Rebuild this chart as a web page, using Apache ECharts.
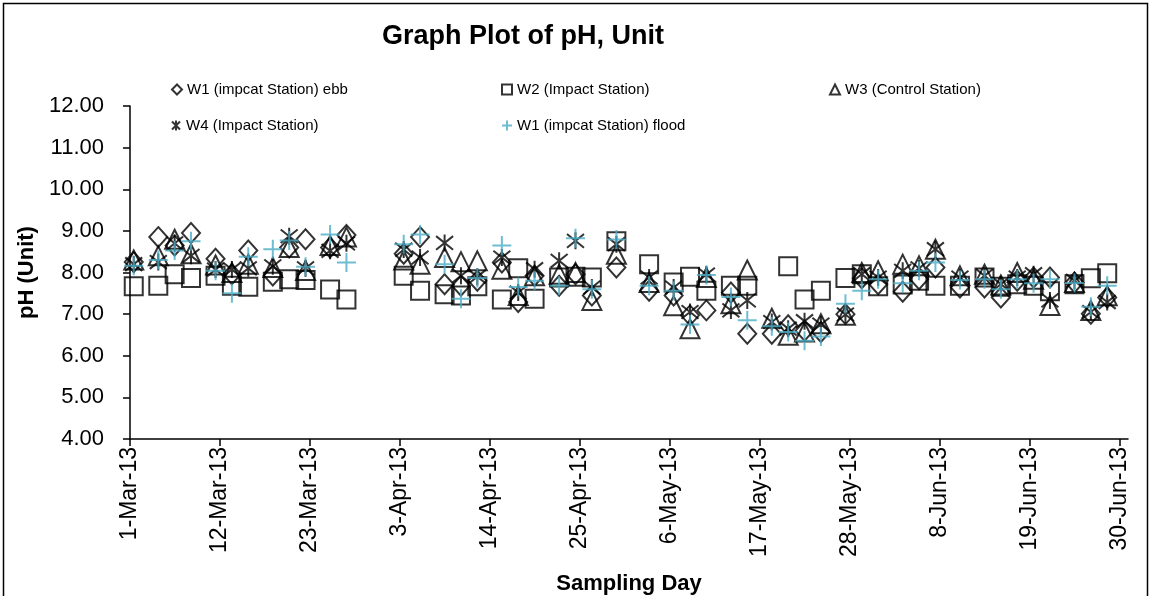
<!DOCTYPE html>
<html>
<head>
<meta charset="utf-8">
<script src="https://cdn.jsdelivr.net/npm/echarts@6/dist/echarts.min.js"></script>
<style>
html,body{margin:0;padding:0;background:#fff;}
#chart{width:1151px;height:596px;}
</style>
</head>
<body>
<div id="chart"></div>
<script>
// ---- data ----
const startDate = '2013-03-01';
const endDate = '2013-07-01';
const sampleHour = 11; // approximate time of day of sampling
const tickLabels = ['1-Mar-13','12-Mar-13','23-Mar-13','3-Apr-13','14-Apr-13','25-Apr-13','6-May-13','17-May-13','28-May-13','8-Jun-13','19-Jun-13','30-Jun-13'];
const dates = ['2013-03-01','2013-03-04','2013-03-06','2013-03-08','2013-03-11','2013-03-13','2013-03-15','2013-03-18','2013-03-20','2013-03-22','2013-03-25','2013-03-27',
  '2013-04-03','2013-04-05','2013-04-08','2013-04-10','2013-04-12','2013-04-15','2013-04-17','2013-04-19','2013-04-22','2013-04-24','2013-04-26','2013-04-29',
  '2013-05-03','2013-05-06','2013-05-08','2013-05-10','2013-05-13','2013-05-15','2013-05-18','2013-05-20','2013-05-22','2013-05-24','2013-05-27','2013-05-29','2013-05-31',
  '2013-06-03','2013-06-05','2013-06-07','2013-06-10','2013-06-13','2013-06-15','2013-06-17','2013-06-19','2013-06-21','2013-06-24','2013-06-26','2013-06-28'];
const w1Ebb = [8.25,8.85,8.65,8.95,8.33,7.96,8.53,7.93,8.60,8.80,8.60,8.90,
  8.45,8.85,7.72,7.68,7.80,8.24,7.29,7.92,7.68,7.96,7.45,8.12,
  7.56,7.45,6.97,7.09,7.52,6.53,6.53,6.73,6.60,6.57,7.00,7.86,7.72,
  7.54,7.84,8.12,7.64,7.64,7.40,7.80,7.88,7.88,7.76,7.01,7.40];
const w2 = [7.67,7.68,7.96,7.87,7.92,7.68,7.66,7.78,7.84,7.82,7.59,7.35,
  7.92,7.56,7.48,7.45,7.67,7.35,8.10,7.37,7.88,7.90,7.88,8.75,
  8.20,7.76,7.90,7.56,7.68,7.68,null,8.15,7.35,7.56,7.87,7.96,7.67,
  7.71,7.80,7.68,7.68,7.88,7.66,7.72,7.68,7.55,7.72,7.86,7.98];
const w3 = [8.30,8.40,8.80,8.45,8.18,8.00,8.20,8.12,8.60,8.05,8.65,8.85,
  8.30,8.20,8.36,8.26,8.28,8.08,7.45,7.92,7.96,8.00,7.33,8.44,
  7.76,7.20,6.65,7.88,7.25,8.06,6.90,6.49,6.57,6.77,6.97,8.00,8.04,
  8.20,8.16,8.56,7.92,7.96,7.70,8.00,7.84,7.21,7.76,7.09,7.44];
const w4 = [8.20,8.25,8.70,8.40,8.07,8.07,8.10,8.15,8.87,8.10,8.52,8.70,
  8.55,8.36,8.71,7.92,7.90,8.36,7.52,8.08,8.28,8.76,7.64,8.68,
  7.88,7.64,7.05,7.95,7.09,7.33,6.81,6.65,6.83,6.75,6.99,7.96,7.88,
  8.04,8.10,8.56,7.88,7.92,7.72,7.88,7.96,7.33,7.80,7.05,7.29];
const w1Flood = [8.16,8.30,8.53,8.75,8.04,7.50,8.38,8.56,8.77,8.14,8.91,8.24,
  8.68,8.91,8.20,7.37,7.87,8.65,7.65,7.80,7.68,8.82,7.60,8.79,
  7.68,7.56,6.75,7.94,7.41,6.85,6.71,6.57,6.36,6.46,7.25,7.56,7.84,
  7.74,8.04,8.24,7.82,7.84,7.60,7.84,7.74,7.84,7.75,7.18,7.68];
const seriesNames = ['W1 (impcat Station) ebb','W2 (Impact Station)','W3 (Control Station)','W4 (Impact Station)','W1 (impcat Station) flood'];
const yMin = 4, yMax = 12, yStep = 1, xStep = 11;

// ---- build ----
const DAY = 864e5;
const t0 = Date.parse(startDate + 'T00:00:00Z');
const dayOf = d => (Date.parse(d + 'T00:00:00Z') - t0) / DAY;
const xs = dates.map(d => dayOf(d) + sampleHour / 24);
const pts = vals => vals.map((v, i) => v == null ? null : [xs[i], v]).filter(p => p);
const tickDays = tickLabels.map((_, i) => i * xStep);

const starPath = 'path://M0,-10L0,10M-8,-8L8,8M-8,8L8,-8';
const plusPath = 'path://M0,-10L0,10M-10,0L10,0';
const FONT = 'Liberation Sans, Arial, sans-serif';

function mk(name, vals, symbol, size, color) {
  return {
    name, type: 'scatter', data: pts(vals), symbol, symbolSize: size,
    itemStyle: {color: 'rgba(0,0,0,0)', borderColor: color, borderWidth: 2},
    emphasis: {disabled: true}
  };
}
const series = [
  mk(seriesNames[0], w1Ebb, 'diamond', [18, 20], '#000'),
  mk(seriesNames[1], w2, 'rect', 18, '#000'),
  mk(seriesNames[2], w3, 'triangle', [19, 19], '#000'),
  mk(seriesNames[3], w4, starPath, 17, '#000'),
  mk(seriesNames[4], w1Flood, plusPath, 19, '#4BACC6')
];
const legendPos = [[171, 82], [501, 82], [829, 82], [171, 118], [501, 118]];
const legends = seriesNames.map((n, i) => ({
  data: [n], left: legendPos[i][0], top: legendPos[i][1], padding: 0,
  itemWidth: 10, itemHeight: 10, selectedMode: false,
  textStyle: {fontFamily: FONT, fontSize: 15, color: '#000'}
}));

const chart = echarts.init(document.getElementById('chart'), null, {renderer: 'canvas'});
chart.setOption({
  animation: false,
  backgroundColor: '#fff',
  title: {
    text: 'Graph Plot of pH, Unit', left: 377, top: 18,
    textStyle: {fontFamily: FONT, fontSize: 27, fontWeight: 'bold', color: '#000'}
  },
  legend: legends,
  grid: {left: 130, right: 23, top: 106, bottom: 157, containLabel: false, outerBoundsMode: 'none'},
  xAxis: {
    type: 'value', min: 0, max: dayOf(endDate), interval: xStep,
    name: 'Sampling Day', nameLocation: 'middle', nameGap: 134,
    nameTextStyle: {fontFamily: FONT, fontSize: 22, fontWeight: 'bold', color: '#000'},
    axisLine: {lineStyle: {color: '#000', width: 1.5}},
    axisTick: {show: true, length: 7, inside: false, customValues: tickDays, lineStyle: {color: '#000', width: 1.5}},
    axisLabel: {
      customValues: tickDays, rotate: 90, margin: 8,
      fontFamily: FONT, fontSize: 23, color: '#000',
      formatter: v => tickLabels[Math.round(v / xStep)] || ''
    },
    splitLine: {show: false}
  },
  yAxis: {
    type: 'value', min: yMin, max: yMax, interval: yStep,
    name: 'pH (Unit)', nameLocation: 'middle', nameGap: 89,
    nameTextStyle: {fontFamily: FONT, fontSize: 22, fontWeight: 'bold', color: '#000'},
    axisLine: {show: true, lineStyle: {color: '#000', width: 1.5}},
    axisTick: {show: true, length: 7, lineStyle: {color: '#000', width: 1.5}},
    axisLabel: {fontFamily: FONT, fontSize: 22, color: '#000', margin: 26, formatter: v => v.toFixed(2)},
    splitLine: {show: false}
  },
  graphic: [{
    type: 'rect', silent: true,
    shape: {x: 3.5, y: 3.5, width: 1144, height: 604},
    style: {fill: 'none', stroke: '#000', lineWidth: 1.5}
  }],
  series
});
</script>
</body>
</html>
